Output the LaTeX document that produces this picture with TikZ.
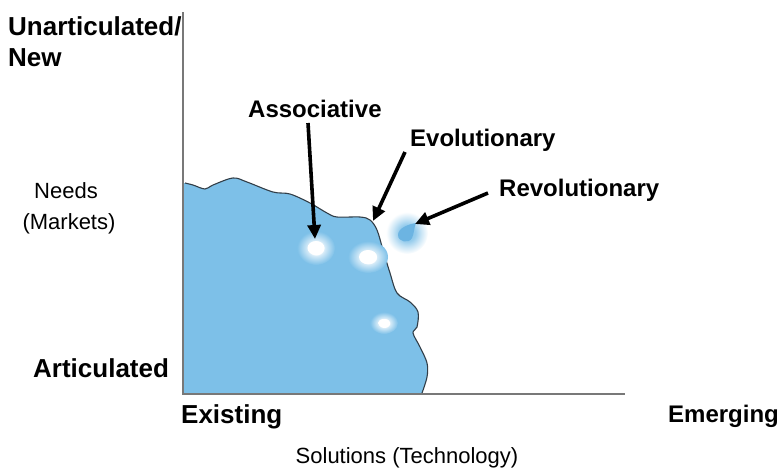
\documentclass[tikz,border=0pt]{standalone}
\usepackage{fontspec}
\setmainfont{Liberation Sans}
\usetikzlibrary{arrows.meta}

\definecolor{blobblue}{RGB}{125,192,232}
\definecolor{budblue}{RGB}{108,180,226}
\definecolor{edgegray}{RGB}{50,62,72}
\definecolor{axisgray}{RGB}{120,120,120}

% white spot with a soft halo that melts into the blue region
% (TikZ fits the inner 25bp radius of a shading to the path)
\pgfdeclareradialshading{spotglow}{\pgfpoint{0bp}{0bp}}{%
  color(0bp)=(white); color(10bp)=(white); color(11bp)=(blobblue!30!white);
  color(25bp)=(blobblue); color(50bp)=(blobblue)}
% blue bud with a halo that fades into the white page
\pgfdeclareradialshading{budglow}{\pgfpoint{0bp}{0bp}}{%
  color(0bp)=(blobblue); color(10bp)=(blobblue!80!white);
  color(17bp)=(blobblue!40!white); color(25bp)=(white); color(50bp)=(white)}

\tikzset{
  axislabel/.style={font=\fontsize{26}{30}\selectfont\bfseries, anchor=base west, inner sep=0pt},
  calllabel/.style={font=\fontsize{24}{28}\selectfont\bfseries, anchor=base west, inner sep=0pt},
  plainlabel/.style={font=\fontsize{22}{26}\selectfont, anchor=base, inner sep=0pt},
  axisline/.style={draw=axisgray, line width=1.4pt},
  pointer/.style={line width=3.6pt, -{Triangle[length=14pt,width=13pt]}},
}

\begin{document}
\begin{tikzpicture}[x=1pt,y=-1pt]
  \useasboundingbox (0,0) rectangle (782,469);

  % the region of known needs and solutions
  \fill[blobblue]
    (184,393) -- (184,183)
    -- plot[smooth, tension=0.55] coordinates {
      (185,183) (193,185) (205,189) (213,185) (233,178) (247,182) (273,192)
      (290,194) (310,203) (327,213) (337,217) (360,217) (370,220) (377,230)
      (383,250) (390,273) (397,293) (410,302) (418,312) (417,327) (413,333)
      (420,347) (427,363) (427,377) (422,393)}
    -- cycle;
  \draw[edgegray, line width=1.1pt]
    plot[smooth, tension=0.55] coordinates {
      (185,183) (193,185) (205,189) (213,185) (233,178) (247,182) (273,192)
      (290,194) (310,203) (327,213) (337,217) (360,217) (370,220) (377,230)
      (383,250) (390,273) (397,293) (410,302) (418,312) (417,327) (413,333)
      (420,347) (427,363) (427,377) (422,393)};

  % glowing spots inside the region
  \coordinate (spotA) at (316,248);
  \coordinate (spotB) at (368,257);
  \coordinate (spotC) at (384,323);
  \shade[shading=spotglow] (spotA) ellipse (19pt and 17pt);
  \fill[white] (spotA) ellipse (8.5pt and 7pt);
  \shade[shading=spotglow] (spotB) ellipse (20pt and 16pt);
  \fill[white] (spotB) ellipse (9pt and 7pt);
  \shade[shading=spotglow] (spotC) ellipse (14pt and 11pt);
  \fill[white] (spotC) ellipse (6pt and 4pt);

  % detached bud outside the region
  \coordinate (bud) at (407,233);
  \shade[shading=budglow] (bud) ellipse (21pt and 21pt);
  \fill[budblue]
    (416,223) .. controls (409,224) and (398,228) .. (398,235)
    .. controls (398,242) and (409,244) .. (412,238)
    .. controls (414,234) and (414,228) .. (416,223);

  % axes
  \coordinate (origin) at (183,394);
  \coordinate (ytop) at (183,12);
  \coordinate (xend) at (625,394);
  \draw[axisline] (ytop) -- (origin) -- (xend);

  % axis labels
  \node[axislabel] (unart) at (8,35) {Unarticulated/};
  \node[axislabel] (new) at (8,66) {New};
  \node[plainlabel] (needs) at (66,198) {Needs};
  \node[plainlabel] (markets) at (69,229) {(Markets)};
  \node[axislabel] (artic) at (33,377) {Articulated};
  \node[axislabel] (existing) at (181,423) {Existing};
  \node[calllabel] (emerging) at (668,422) {Emerging};
  \node[plainlabel] (solutions) at (407,463) {Solutions (Technology)};

  % callouts
  \node[calllabel] (assoc) at (248,117) {Associative};
  \node[calllabel] (evol) at (410,146) {Evolutionary};
  \node[calllabel] (revol) at (499,196) {Revolutionary};

  \coordinate (assocFrom) at (308,123);
  \coordinate (assocTip) at (315,239);
  \coordinate (evolFrom) at (405,152);
  \coordinate (evolTip) at (373,221);
  \coordinate (revolFrom) at (488,193);
  \coordinate (revolTip) at (415,224);

  \draw[pointer] (assocFrom) -- (assocTip);
  \draw[pointer] (evolFrom) -- (evolTip);
  \draw[pointer] (revolFrom) -- (revolTip);
\end{tikzpicture}
\end{document}
